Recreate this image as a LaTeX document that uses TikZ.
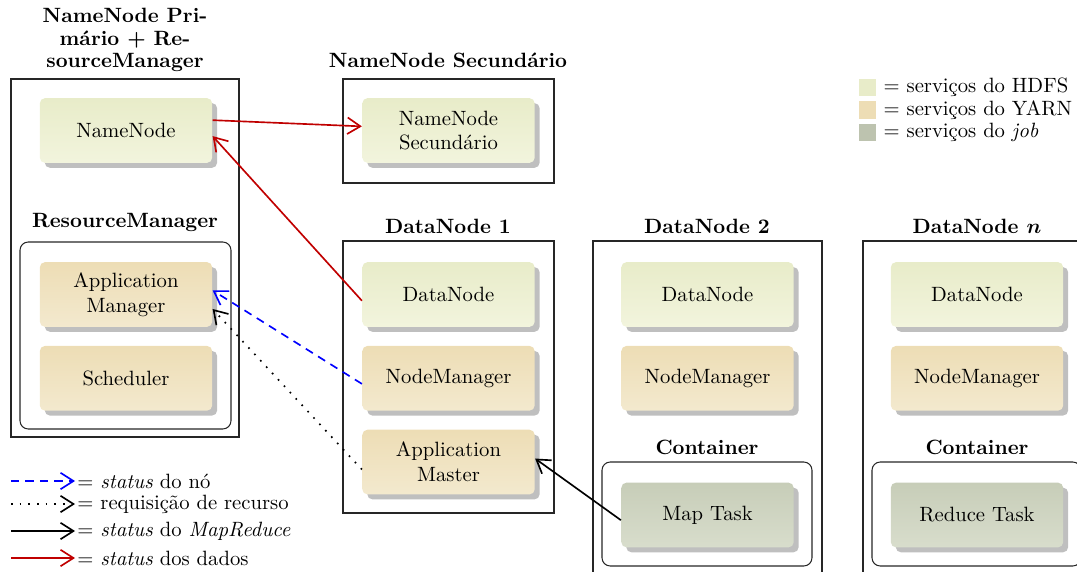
\documentclass[tikz,border=0pt]{standalone}
\usepackage{fontspec}
\usetikzlibrary{arrows.meta,
                positioning,
                shadows} % For drop shadow
\definecolor{hdfstop}{RGB}{232,236,201}
\definecolor{hdfsbottom}{RGB}{242,244,221}
\definecolor{yarntop}{RGB}{237,221,181}
\definecolor{yarnbottom}{RGB}{243,233,206}
\definecolor{jobtop}{RGB}{199,205,184}
\definecolor{jobbottom}{RGB}{216,221,204}
\definecolor{datared}{RGB}{192,0,0}

\begin{document}
\begin{tikzpicture}[x=0.017cm, y=-0.017cm]
    \tikzset
    {
        base/.style = {rounded corners = 2.5pt,
                       node distance = 3.1mm,
                       minimum width = 29.3mm,
                       minimum height = 11mm,
                       align = center,
                       drop shadow = {shadow xshift = 2.4pt,
                                      shadow yshift = -2.4pt,
                                      fill = black!25,
                                      opacity = 1}},
        hdfs/.style = {base,
                       top color = hdfstop,
                       bottom color = hdfsbottom},
        yarn/.style = {base,
                       top color = yarntop,
                       bottom color = yarnbottom},
        job/.style = {base,
                      top color = jobtop,
                      bottom color = jobbottom},
        machine/.style = {draw = black!85,
                          line width = 0.5pt},
        group/.style = {machine,
                        rounded corners = 4pt},
        title/.style = {font = \bfseries,
                        align = center},
        swatch/.style = {minimum size = 2.9mm,
                         inner sep = 0pt},
        legend/.style = {inner sep = 1pt},
        link/.style = {thick,
                       -{Straight Barb[length = 2.2mm, width = 2.8mm]}}
    };

    \useasboundingbox (0,0) rectangle (1077,571);

    % Machines
    \draw[machine] (11,79) rectangle (239,437);
    \draw[group]   (20,242) rectangle (231,429);
    \draw[machine] (343,79) rectangle (554,183);
    \draw[machine] (343,241) rectangle (554,513);
    \draw[machine] (593,241) rectangle (822,600);
    \draw[group]   (602,462) rectangle (812,566);
    \draw[machine] (863,241) rectangle (1091,600);
    \draw[group]   (872,462) rectangle (1081,566);

    % Titles
    \node[title] (title primary) at (125,40) {NameNode Pri-\\[-1.2pt]mário + Re-\\[-1.2pt]sourceManager};
    \node[title] (title rm) at (125,222) {ResourceManager};
    \node[title] (title secondary) at (448,60) {NameNode Secundário};
    \node[title] (title dn 1) at (448,226) {DataNode 1};
    \node[title] (title dn 2) at (707,226) {DataNode 2};
    \node[title] (title dn n) at (977,226) {DataNode {\boldmath$n$}};
    \node[title] (title container 2) at (707,447) {Container};
    \node[title] (title container n) at (977,447) {Container};

    % Column 1
    \node[hdfs] (namenode) at (126,130.5) {NameNode};
    \node[yarn] (appmanager) at (126,294.5) {Application\\Manager};
    \node[yarn] (scheduler) [below=of appmanager] {Scheduler};
    % Column 2
    \node[hdfs] (secondary) at (448.5,130.5) {NameNode\\Secundário};
    \node[hdfs] (datanode 1) at (448.5,294.5) {DataNode};
    \node[yarn] (nodemanager 1) [below=of datanode 1] {NodeManager};
    \node[yarn] (appmaster) [below=of nodemanager 1] {Application\\Master};
    % Column 3
    \node[hdfs] (datanode 2) at (707.5,294.5) {DataNode};
    \node[yarn] (nodemanager 2) [below=of datanode 2] {NodeManager};
    \node[job] (map task) at (707.5,515) {Map Task};
    % Column 4
    \node[hdfs] (datanode n) at (977,294.5) {DataNode};
    \node[yarn] (nodemanager n) [below=of datanode n] {NodeManager};
    \node[job] (reduce task) at (977,515) {Reduce Task};

    % Arrows
    \draw[link, datared]
        ([yshift=5pt] namenode.east) -- ([yshift=2pt] secondary.west);
    \draw[link, datared]
        ([yshift=-3pt] datanode 1.west) -- ([yshift=-2.7pt] namenode.east);
    \draw[link, blue, dash pattern=on 4pt off 3pt]
        ([yshift=-2.7pt] nodemanager 1.west) -- ([yshift=2pt] appmanager.east);
    \draw[link, dash pattern=on 0.8pt off 3.4pt]
        ([yshift=-3.6pt] appmaster.west) -- ([yshift=-7pt] appmanager.east);
    \draw[link]
        ([yshift=-2.5pt] map task.west) -- ([yshift=1.7pt] appmaster.east);

    % Legend, services
    \node[swatch, fill = hdfstop] (key hdfs) at (867.5,87.5) {};
    \node[swatch, fill = yarntop] (key yarn) at (867.5,110) {};
    \node[swatch, fill = jobtop!95!black] (key job) at (867.5,132.5) {};
    \node[legend] (text hdfs) [right=0.8mm of key hdfs] {$=$ serviços do HDFS};
    \node[legend] (text yarn) [right=0.8mm of key yarn] {$=$ serviços do YARN};
    \node[legend] (text job) [right=0.8mm of key job] {$=$ serviços do \textit{job}};

    % Legend, arrows
    \node[legend, anchor=west] (text node) at (75,481) {$=$ \textit{status} do nó};
    \node[legend, anchor=west] (text request) at (75,504) {$=$ requisição de recurso};
    \node[legend, anchor=west] (text mapreduce) at (75,531) {$=$ \textit{status} do \textit{MapReduce}};
    \node[legend, anchor=west] (text data) at (75,558) {$=$ \textit{status} dos dados};
    \coordinate (tail node) at (11,481);
    \coordinate (tail request) at (11,504);
    \coordinate (tail mapreduce) at (11,531);
    \coordinate (tail data) at (11,558);
    \draw[link, blue, dash pattern=on 4pt off 3pt] (tail node) -- (text node);
    \draw[link, dash pattern=on 0.8pt off 3.4pt] (tail request) -- (text request);
    \draw[link] (tail mapreduce) -- (text mapreduce);
    \draw[link, datared] (tail data) -- (text data);
\end{tikzpicture}
\end{document}
